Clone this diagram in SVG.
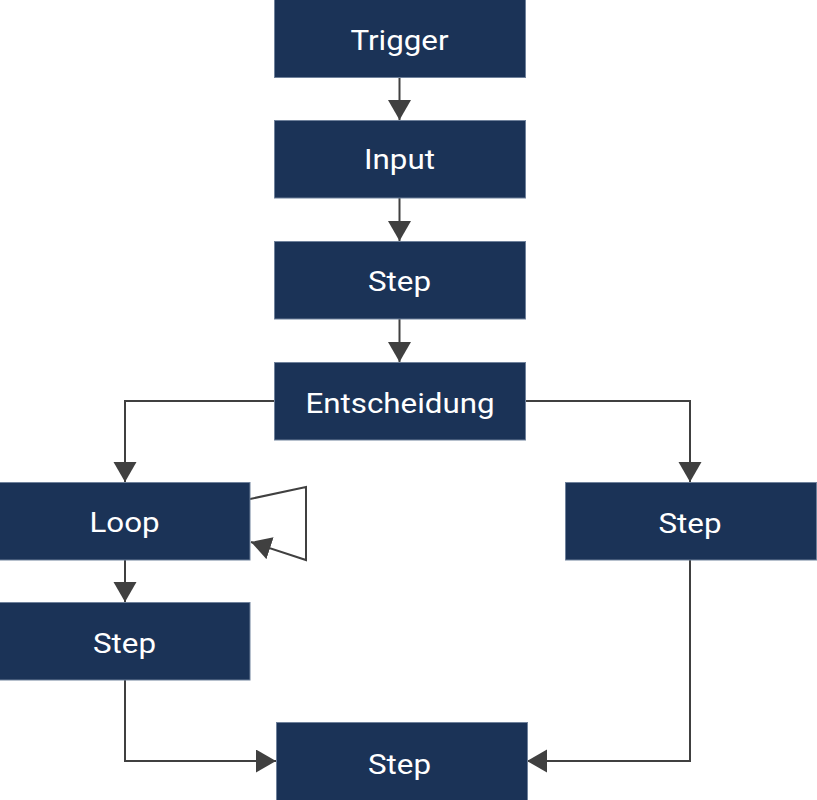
<svg xmlns="http://www.w3.org/2000/svg" width="817" height="800" viewBox="0 0 817 800">
<style>
.box{fill:#1b3357;stroke:#6f819b;stroke-width:1}
.lbl{fill:#ffffff;font-family:Roboto,"Liberation Sans",sans-serif;font-size:27px;font-weight:400;text-anchor:middle}
.edge{fill:none;stroke:#404040;stroke-width:2}
</style>
<defs>
<marker id="ah" markerUnits="userSpaceOnUse" markerWidth="22" markerHeight="24" refX="20" refY="11.5" orient="auto" viewBox="0 0 22 24">
<path d="M0,0 L20,11.5 L0,23 Z" fill="#404040"/>
</marker>
</defs>
<rect width="817" height="800" fill="#ffffff"/>
<g id="connectors">
<path class="edge" d="M399.5,78 V120" marker-end="url(#ah)"/>
<path class="edge" d="M399.5,198 V241" marker-end="url(#ah)"/>
<path class="edge" d="M399.5,319 V362" marker-end="url(#ah)"/>
<path class="edge" d="M274,401 H125 V482" marker-end="url(#ah)"/>
<path class="edge" d="M525,401 H690 V482" marker-end="url(#ah)"/>
<path class="edge" d="M250,499 L306,487 V560 L251,542" marker-end="url(#ah)"/>
<path class="edge" d="M125,560 V602" marker-end="url(#ah)"/>
<path class="edge" d="M125,680 V761 H276" marker-end="url(#ah)"/>
<path class="edge" d="M690,560 V761 H527" marker-end="url(#ah)"/>
</g>
<g id="trigger"><rect class="box" x="274.5" y="-1" width="251" height="78.5"/><text class="lbl" transform="translate(399.5,49.5) scale(1.16,1)">Trigger</text></g>
<g id="input"><rect class="box" x="274.5" y="120.5" width="251" height="77.5"/><text class="lbl" transform="translate(399.5,168.5) scale(1.16,1)">Input</text></g>
<g id="step1"><rect class="box" x="274.5" y="241.5" width="251" height="77.5"/><text class="lbl" transform="translate(399.5,290.5) scale(1.16,1)">Step</text></g>
<g id="entscheidung"><rect class="box" x="274.5" y="362.5" width="251" height="77.5"/><text class="lbl" transform="translate(400,412.5) scale(1.16,1)">Entscheidung</text></g>
<g id="loop"><rect class="box" x="-1" y="482.5" width="251" height="77.5"/><text class="lbl" transform="translate(124.5,531.5) scale(1.16,1)">Loop</text></g>
<g id="step-right"><rect class="box" x="565.5" y="482.5" width="251" height="77.5"/><text class="lbl" transform="translate(690,532.5) scale(1.16,1)">Step</text></g>
<g id="step-left"><rect class="box" x="-1" y="602.5" width="251" height="77.5"/><text class="lbl" transform="translate(124.5,652.5) scale(1.16,1)">Step</text></g>
<g id="step-bottom"><rect class="box" x="276.5" y="722.5" width="251" height="78"/><text class="lbl" transform="translate(399.5,773.5) scale(1.16,1)">Step</text></g>
</svg>
